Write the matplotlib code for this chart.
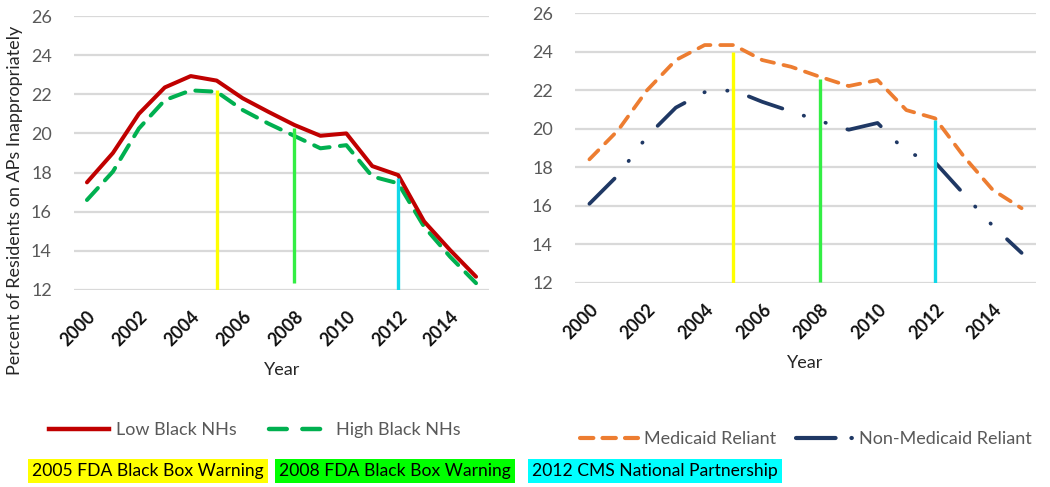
import matplotlib
matplotlib.use('Agg')
from matplotlib import pyplot as plt
from matplotlib.lines import Line2D

plt.rcParams['font.family'] = ['Lato', 'DejaVu Sans']

years = list(range(2000, 2016))
tick_years = list(range(2000, 2015, 2))

low_black = [17.5, 19.0, 21.0, 22.35, 22.93, 22.7, 21.8, 21.1, 20.43, 19.88,
             20.0, 18.33, 17.87, 15.5, 14.04, 12.68]
high_black = [16.6, 18.05, 20.25, 21.7, 22.2, 22.13, 21.2, 20.5, 19.87, 19.24,
              19.4, 17.8, 17.45, 15.23, 13.7, 12.35]

medicaid = [18.41, 19.93, 22.0, 23.57, 24.35, 24.35, 23.57, 23.22, 22.7, 22.22,
            22.53, 20.97, 20.54, 18.55, 16.82, 15.87]
non_medicaid = [16.1, 17.6, 19.6, 21.1, 21.9, 22.0, 21.4, 20.9, 20.4, 19.95,
                20.3, 18.8, 18.25, 16.6, 14.95, 13.55]

event_years = [2005, 2008, 2012]
event_labels = ['2005 FDA Black Box Warning', '2008 FDA Black Box Warning',
                '2012 CMS National Partnership']
left_event_bottom = [12.0, 12.35, 12.0]
left_event_top = [22.2, 20.3, 17.7]
right_event_bottom = [12.0, 12.05, 11.95]
right_event_top = [24.0, 22.6, 20.45]

event_line_colors = ['#FFFF00', '#33EE44', '#11D8E8']
event_box_colors = ['#FFFF00', '#00FF00', '#00FFFF']

fig = plt.figure(figsize=(10.5, 4.87), dpi=100)
ax1 = fig.add_axes([74 / 1050, 1 - 290 / 487, 415 / 1050, 274 / 487])
ax2 = fig.add_axes([575 / 1050, 1 - 282.7 / 487, 461 / 1050, 269.4 / 487])


def style_axis(ax):
    ax.set_xlim(1999.5, 2015.5)
    ax.set_ylim(12, 26)
    ax.set_yticks(range(12, 27, 2))
    ax.set_xticks(tick_years)
    ax.set_xticklabels([str(y) for y in tick_years], rotation=45, ha='right',
                       rotation_mode='anchor', fontsize=12.8, fontweight='bold',
                       color='#111111')
    for lab in ax.get_yticklabels():
        lab.set_fontsize(13)
        lab.set_color('#595959')
    ax.tick_params(axis='y', length=0, pad=16)
    ax.tick_params(axis='x', length=0, pad=13)
    ax.grid(axis='y', color='#d9d9d9', linewidth=1.6)
    ax.set_axisbelow(True)
    for s in ax.spines.values():
        s.set_visible(False)


style_axis(ax1)
style_axis(ax2)

ax1.plot(years, low_black, color='#C00000', linewidth=2.9,
         solid_capstyle='round', solid_joinstyle='round', zorder=3)
ax1.plot(years, high_black, color='#00B050', linewidth=2.9,
         dashes=(4, 2.6), dash_capstyle='round', zorder=2)
ax1.vlines(event_years, left_event_bottom, left_event_top,
           colors=event_line_colors, linewidth=2.4, zorder=4)

ax2.plot(years, medicaid, color='#ED7D31', linewidth=2.7,
         dashes=(3.4, 2.6), dash_capstyle='round', zorder=3)
ax2.plot(years, non_medicaid, color='#1F3864', linewidth=2.7,
         dashes=(9.5, 6.0, 0.1, 6.0, 0.1, 6.0), dash_capstyle='round', zorder=3)
ax2.vlines(event_years, right_event_bottom, right_event_top,
           colors=event_line_colors, linewidth=2.4, zorder=4)

fig.text(15 / 1050, 1 - 200 / 487, 'Percent of Residents on APs Inappropriately',
         rotation=90, ha='center', va='center', fontsize=13, color='#262626')
fig.text(282 / 1050, 1 - 370 / 487, 'Year', ha='center', va='center',
         fontsize=13, color='#262626')
fig.text(805 / 1050, 1 - 363 / 487, 'Year', ha='center', va='center',
         fontsize=13, color='#262626')

left_handles = [
    Line2D([], [], color='#C00000', linewidth=3.2),
    Line2D([], [], color='#00B050', linewidth=3.2, dashes=(4, 3.5),
           dash_capstyle='round'),
]
fig.legend(left_handles, ['Low Black NHs', 'High Black NHs'],
           loc='center', bbox_to_anchor=(255 / 1050, 1 - 430 / 487), ncol=2,
           frameon=False, fontsize=13, handlelength=3.3, handletextpad=0.4,
           columnspacing=1.8, labelcolor='#595959')

right_handles = [
    Line2D([], [], color='#ED7D31', linewidth=3.0, dashes=(3.2, 2.2),
           dash_capstyle='round'),
    Line2D([], [], color='#1F3864', linewidth=3.0,
           dashes=(9.5, 3.8, 0.1, 30), dash_capstyle='round'),
]
fig.legend(right_handles, ['Medicaid Reliant', 'Non-Medicaid Reliant'],
           loc='center', bbox_to_anchor=(806 / 1050, 1 - 439 / 487), ncol=2,
           frameon=False, fontsize=13, handlelength=3.2, handletextpad=0.3,
           columnspacing=1.1, labelcolor='#595959')

box_x = [32, 279, 532]
for x, label, col in zip(box_x, event_labels, event_box_colors):
    fig.text(x / 1050, 1 - 471 / 487, label, ha='left', va='center',
             fontsize=12.6, color='black',
             bbox=dict(facecolor=col, edgecolor='none', pad=3))

fig.savefig('out.png', dpi=100)
